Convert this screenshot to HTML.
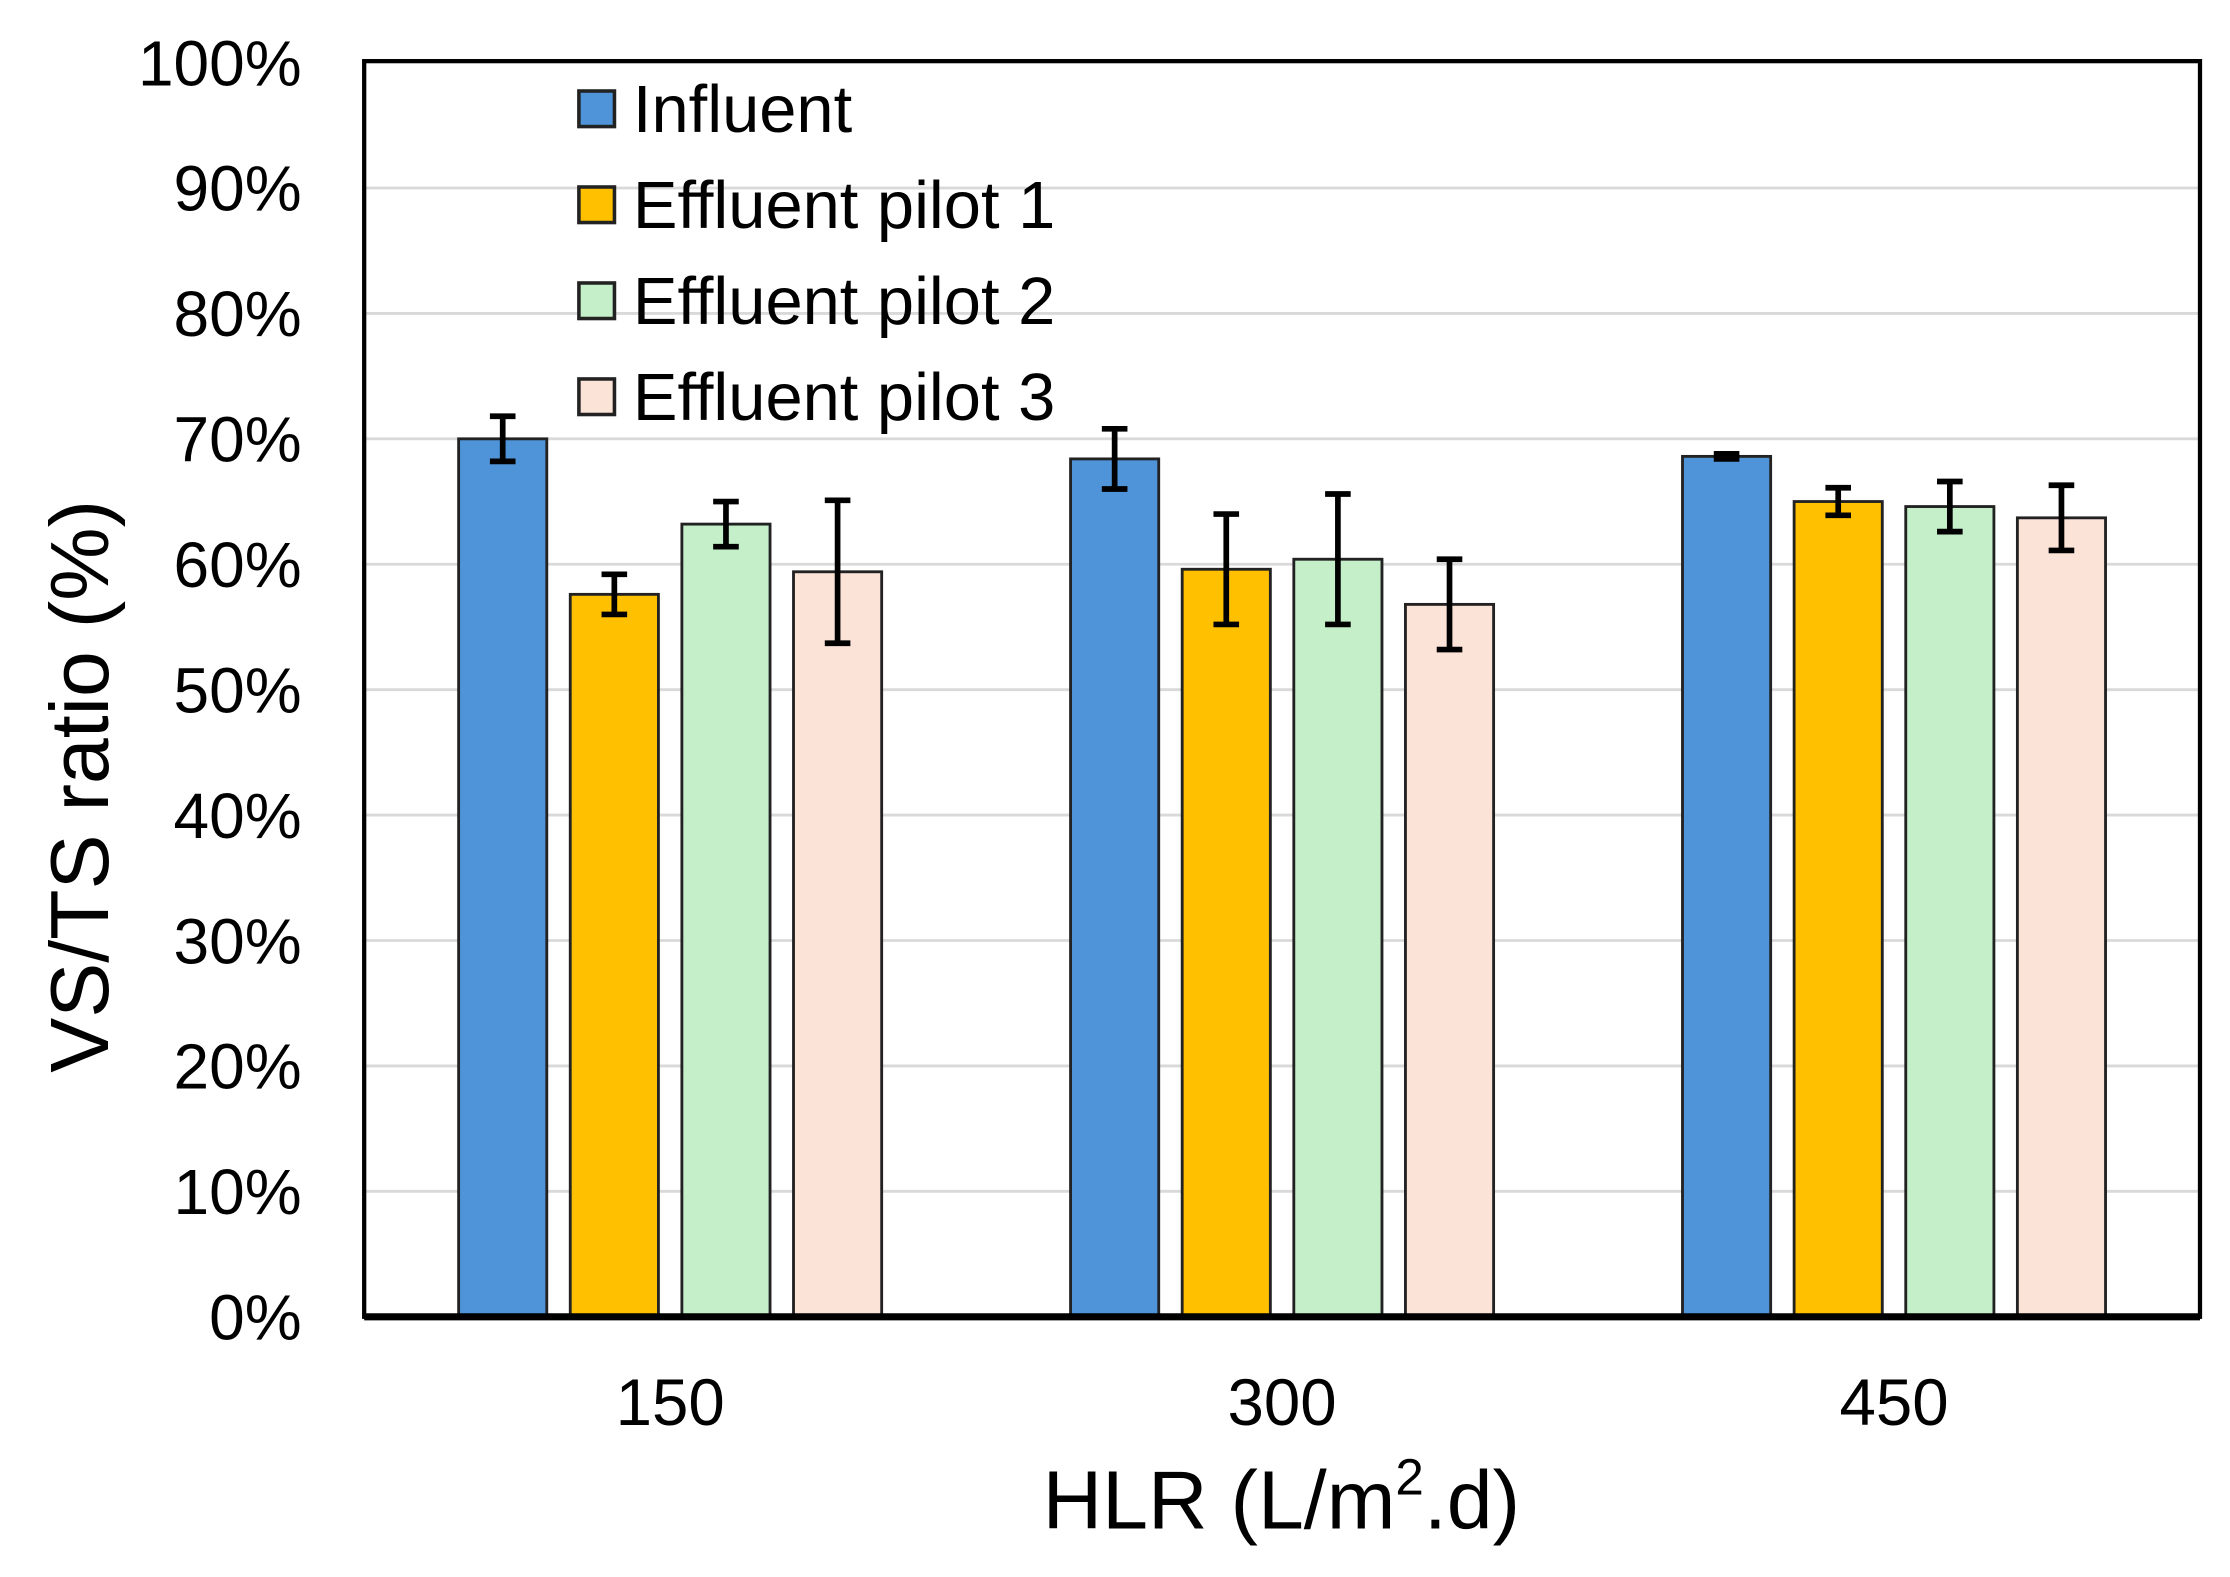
<!DOCTYPE html>
<html><head><meta charset="utf-8"><style>
html,body{margin:0;padding:0;background:#fff;}
svg{display:block;font-family:"Liberation Sans",Arial,sans-serif;}
</style></head><body>
<svg id="chart" width="2230" height="1577" viewBox="0 0 1568 1109" xmlns="http://www.w3.org/2000/svg">
<g id="grid"></g>
<g id="bars"></g>
<rect x="256" y="43" width="1291" height="883" fill="none" stroke="#000" stroke-width="3"/>
<line x1="256" y1="926" x2="1547" y2="926" stroke="#000" stroke-width="5"/>
<g id="yticks" font-size="45" text-anchor="end"></g>
<g id="xticks" font-size="46" text-anchor="middle"></g>
<text transform="translate(76,553) rotate(-90)" font-size="58" text-anchor="middle">VS/TS ratio (%)</text>
<text x="901" y="1075" font-size="58" text-anchor="middle">HLR (L/m<tspan font-size="36" dy="-24">2</tspan><tspan dy="24">.d)</tspan></text>
<g id="legend" font-size="47"></g>
</svg>
<script>
const categories = ["150", "300", "450"];
const seriesNames = ["Influent", "Effluent pilot 1", "Effluent pilot 2", "Effluent pilot 3"];
const influent = [70.0, 68.4, 68.6];
const pilot1 = [57.6, 59.6, 65.0];
const pilot2 = [63.2, 60.4, 64.6];
const pilot3 = [59.4, 56.8, 63.7];
const influentErr = [1.8, 2.4, 0.2];
const pilot1Err = [1.6, 4.4, 1.1];
const pilot2Err = [1.8, 5.2, 2.0];
const pilot3Err = [5.7, 3.6, 2.6];
const yTicks = [0, 10, 20, 30, 40, 50, 60, 70, 80, 90, 100];

const NS = "http://www.w3.org/2000/svg";
const colors = ["#4F94D8", "#FFC000", "#C4EFC8", "#FCE3D8"];
const series = [influent, pilot1, pilot2, pilot3];
const errs = [influentErr, pilot1Err, pilot2Err, pilot3Err];
const plotL = 256, plotR = 1547, plotT = 44, plotB = 926;
const y = v => plotB - (v / 100) * (plotB - plotT);
const groupW = (plotR - plotL) / categories.length;
const xc = i => plotL + groupW * (i + 0.5);
const barStep = 78.5, barW = 62;
function mk(tag, attrs, parent) {
  const e = document.createElementNS(NS, tag);
  for (const k in attrs) e.setAttribute(k, attrs[k]);
  parent.appendChild(e);
  return e;
}
const grid = document.getElementById('grid');
const yt = document.getElementById('yticks');
yTicks.forEach(t => {
  if (t > 0 && t < 100) {
    const l = mk('line', {x1: plotL, x2: plotR, y1: y(t), y2: y(t), stroke: '#d9d9d9', 'stroke-width': 2}, grid);
    
    
  }
  const tx = mk('text', {x: 212, y: y(t) + 16}, yt);
  tx.textContent = t + '%';
  
  
});
const xt = document.getElementById('xticks');
categories.forEach((c, i) => {
  const tx = mk('text', {x: xc(i), y: 1002}, xt);
  tx.textContent = c;
  
  
});
const bars = document.getElementById('bars');
series.forEach((s, si) => {
  s.forEach((v, i) => {
    const cx = xc(i) + (si - 1.5) * barStep;
    const r = mk('rect', {x: cx - barW / 2, y: y(v), width: barW, height: plotB - y(v), fill: colors[si], stroke: '#222', 'stroke-width': 2}, bars);
    
    
    const e = errs[si][i];
    const g = mk('g', {stroke: '#000', 'stroke-width': 4}, bars);
    
    
    mk('line', {x1: cx, x2: cx, y1: y(v + e), y2: y(v - e)}, g);
    mk('line', {x1: cx - 9, x2: cx + 9, y1: y(v + e), y2: y(v + e)}, g);
    mk('line', {x1: cx - 9, x2: cx + 9, y1: y(v - e), y2: y(v - e)}, g);
  });
});
const lg = document.getElementById('legend');
seriesNames.forEach((n, i) => {
  const cy = 76 + i * 67.5;
  const g = mk('g', {}, lg);
  
  
  mk('rect', {x: 407, y: cy - 12, width: 25, height: 25, fill: colors[i], stroke: '#222', 'stroke-width': 2.5}, g);
  const t = mk('text', {x: 445, y: cy + 17}, g);
  t.textContent = n;
});
</script>
</body></html>
